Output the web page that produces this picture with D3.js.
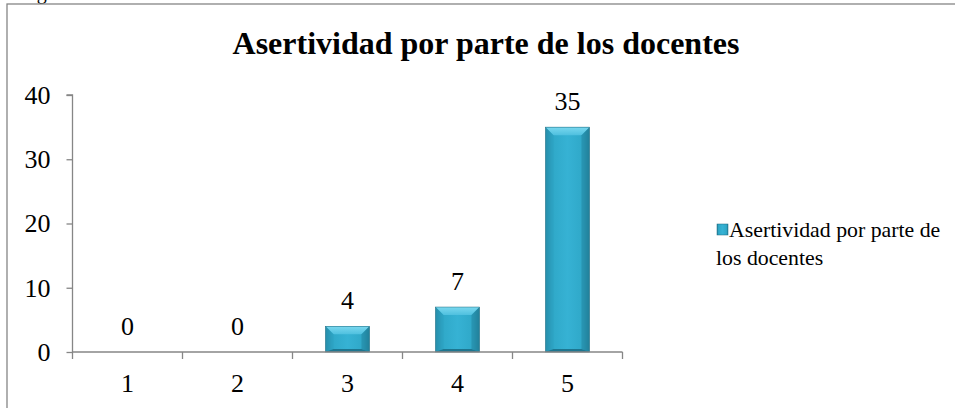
<!DOCTYPE html>
<html><head><meta charset="utf-8">
<script src="https://cdn.jsdelivr.net/npm/d3@7"></script>
</head><body style="margin:0">
<svg id="c" width="955" height="408" font-family="Times New Roman" style="display:block"></svg>
<script>
const categories = ["1", "2", "3", "4", "5"];
const values = [0, 0, 4, 7, 35];
const yTicks = [0, 10, 20, 30, 40];
const titleText = "Asertividad por parte de los docentes";
const legendLines = ["Asertividad por parte de", "los docentes"];

const FONT = "Times New Roman";
const svg = d3.select("#c");

// partial caption above the frame (cut off in the source)
svg.append("text").attr("x", 20).attr("y", -1).style("font-family", FONT)
  .style("font-size", "20px").attr("fill", "#000").text("Figura");

// frame
svg.append("rect").attr("x", 7).attr("y", 4).attr("width", 960).attr("height", 420)
  .attr("fill", "#fff").attr("stroke", "#868686").attr("stroke-width", 1.3);

const x = d3.scaleBand().domain(categories).range([72.5, 622.5]).paddingInner(0.6).paddingOuter(0.3);
const xb = d3.scaleBand().domain(categories).range([72.5, 622.5]);
const y = d3.scaleLinear().domain([0, 40]).range([352, 95]);

const defs = svg.append("defs");
const g1 = defs.append("linearGradient").attr("id", "hg").attr("x1", 0).attr("x2", 1).attr("y1", 0).attr("y2", 0);
[[0, "#23809a"], [0.15, "#2fa8c8"], [0.5, "#36b2d4"], [0.85, "#2fa8c8"], [1, "#23809a"]]
  .forEach(s => g1.append("stop").attr("offset", s[0]).attr("stop-color", s[1]));
const g2 = defs.append("linearGradient").attr("id", "tg").attr("x1", 0).attr("x2", 0).attr("y1", 0).attr("y2", 1);
[[0, "#7ad8ef"], [1, "#4fc0df"]].forEach(s => g2.append("stop").attr("offset", s[0]).attr("stop-color", s[1]));

// title
svg.append("text").attr("x", 486).attr("y", 54).attr("text-anchor", "middle")
  .style("font-family", FONT).style("font-weight", "bold").style("font-size", "32px")
  .attr("fill", "#000").text(titleText);

// bars
const bars = svg.append("g");
categories.forEach((c, i) => {
  const v = values[i];
  if (v <= 0) return;
  const x0 = x(c), w = x.bandwidth(), y0 = y(v), h = y(0) - y(v);
  const b = Math.min(8, h / 2.6);
  const gg = bars.append("g");
  gg.append("rect").attr("x", x0).attr("y", y0).attr("width", w).attr("height", h).attr("fill", "url(#hg)");
  gg.append("path").attr("d", `M${x0},${y0}L${x0 + w},${y0}L${x0 + w - b},${y0 + b}L${x0 + b},${y0 + b}Z`)
    .attr("fill", "url(#tg)");
  gg.append("path").attr("d", `M${x0},${y0}L${x0 + b},${y0 + b}L${x0 + b},${y0 + h - 3}L${x0},${y0 + h}Z`)
    .attr("fill", "#2a9cbb").attr("opacity", 0.5);
  gg.append("path").attr("d", `M${x0 + w},${y0}L${x0 + w - b},${y0 + b}L${x0 + w - b},${y0 + h - 3}L${x0 + w},${y0 + h}Z`)
    .attr("fill", "#1f7f9a").attr("opacity", 0.5);
  gg.append("path").attr("d", `M${x0},${y0 + h}L${x0 + b},${y0 + h - 3}L${x0 + w - b},${y0 + h - 3}L${x0 + w},${y0 + h}Z`)
    .attr("fill", "#1d7690");
  gg.append("rect").attr("x", x0).attr("y", y0).attr("width", w).attr("height", h)
    .attr("fill", "none").attr("stroke", "#1d6a80").attr("stroke-width", 0.5);
});

// data labels
svg.append("g").selectAll("text").data(categories).join("text")
  .attr("x", d => x(d) + x.bandwidth() / 2)
  .attr("y", (d, i) => y(values[i]) - 17)
  .attr("text-anchor", "middle").style("font-family", FONT).style("font-size", "26px").attr("fill", "#000")
  .text((d, i) => values[i]);

// y axis
const ya = svg.append("g").attr("transform", "translate(72.5,0)")
  .call(d3.axisLeft(y).tickValues(yTicks).tickSize(6).tickPadding(16));
ya.attr("font-family", FONT).attr("font-size", 26);
ya.select(".domain").attr("stroke", "#868686").attr("stroke-width", 1.3).attr("d", `M-6,${y(40)}H0V${y(0)}`);
ya.selectAll(".tick line").attr("stroke", "#868686").attr("stroke-width", 1.3);
ya.selectAll(".tick text").style("font-family", FONT).style("font-size", "26px").attr("fill", "#000");

// x axis
const xa = svg.append("g").attr("transform", `translate(0,${y(0)})`);
xa.append("line").attr("x1", 72.5).attr("x2", 622.5).attr("y1", 0).attr("y2", 0)
  .attr("stroke", "#868686").attr("stroke-width", 1.3);
const bounds = categories.map(c => xb(c)).concat([xb.range()[1]]);
xa.selectAll("line.t").data(bounds).join("line").attr("class", "t")
  .attr("x1", d => d).attr("x2", d => d).attr("y1", 0).attr("y2", 7)
  .attr("stroke", "#868686").attr("stroke-width", 1.3);
xa.selectAll("text").data(categories).join("text")
  .attr("x", d => xb(d) + xb.bandwidth() / 2).attr("y", 40)
  .attr("text-anchor", "middle").style("font-family", FONT).style("font-size", "26px").attr("fill", "#000")
  .text(d => d);

// legend
const lg = svg.append("g");
lg.append("rect").attr("x", 717).attr("y", 224).attr("width", 11).attr("height", 11).attr("fill", "url(#hg)")
  .attr("stroke", "#1d6a80").attr("stroke-width", 0.5);
lg.selectAll("text").data(legendLines).join("text")
  .attr("x", (d, i) => i === 0 ? 729 : 716).attr("y", (d, i) => 237 + i * 28)
  .style("font-family", FONT).style("font-size", "21.8px").attr("fill", "#000").text(d => d);
</script>
</body></html>
